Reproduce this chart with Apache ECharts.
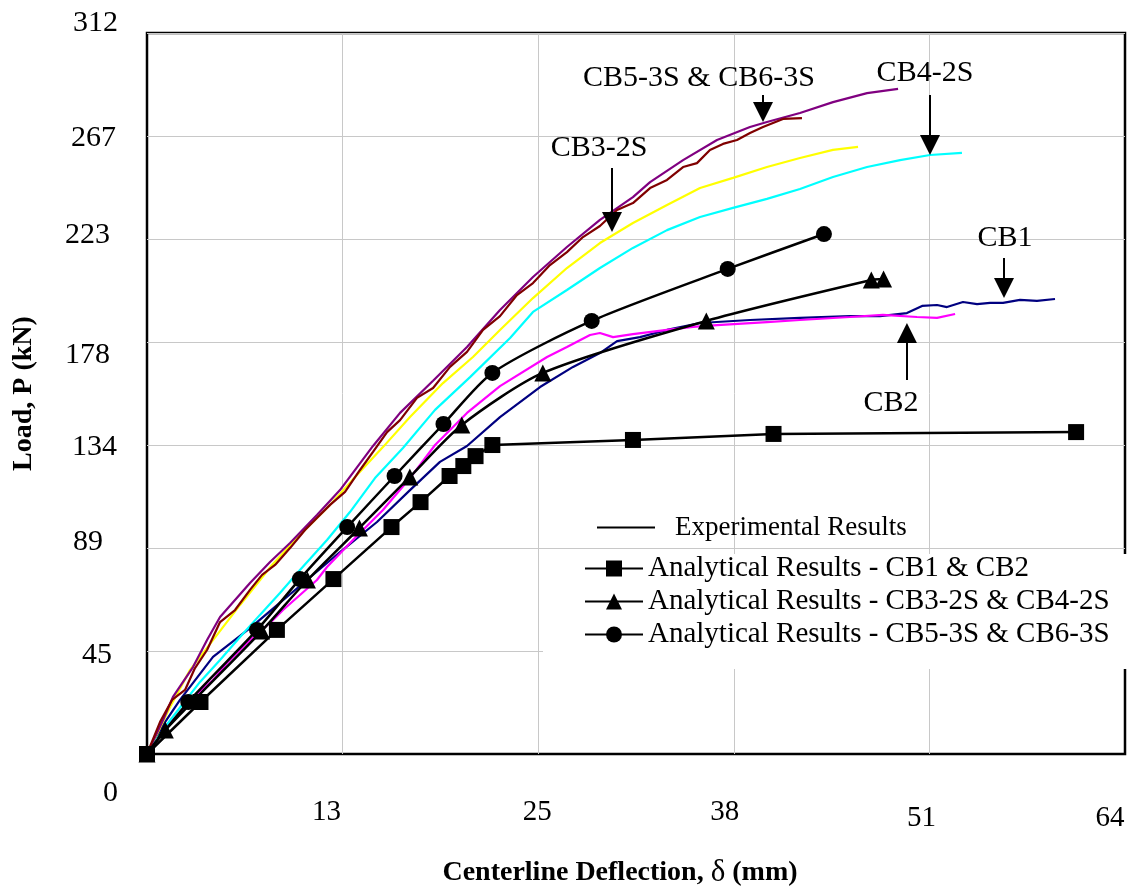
<!DOCTYPE html>
<html>
<head>
<meta charset="utf-8">
<title>Load - centerline deflection</title>
<script src="https://cdn.jsdelivr.net/npm/echarts@6/dist/echarts.min.js"></script>
<style>
  html, body { margin: 0; padding: 0; background: #fff; }
  #main { width: 1136px; height: 893px; }
</style>
</head>
<body>
<div id="main"></div>
<script>
// tick labels as printed on the figure
var xTickLabels = ['0', '13', '25', '38', '51', '64'];
var yTickLabels = ['0', '45', '89', '134', '178', '223', '267', '312'];

// experimental curves  [deflection (mm), load (kN)]
var cb1 = [[0,0],[1.18,13.8],[2.16,23.4],[4.32,42.0],[6.74,54.5],[8.90,66.6],[10.47,75.3],[12.63,87.4],
  [15.05,100.4],[17.21,114.2],[19.17,126.4],[20.94,133.3],[23.10,145.8],[25.72,158.8],[27.88,167.5],
  [29.64,173.5],[30.76,178.7],[32.26,180.4],[34.03,183.5],[36.19,186.5],[39.46,187.8],[42.73,188.7],
  [46.00,189.5],[47.97,189.5],[49.73,190.8],[50.72,193.9],[51.70,194.3],[52.35,193.4],[53.40,195.6],
  [54.32,194.7],[55.17,195.2],[56.02,195.2],[57.13,196.5],[58.24,196.1],[59.42,196.9]];
var cb2 = [[0,0],[1.18,11.3],[2.16,17.7],[2.81,23.4],[4.32,32.0],[5.24,39.4],[6.54,48.0],[8.25,58.0],
  [8.90,62.3],[11.12,75.3],[11.78,80.9],[13.48,92.6],[15.44,105.6],[17.21,119.4],[18.85,133.7],
  [20.94,147.6],[23.10,159.2],[26.18,171.8],[27.48,176.1],[28.99,181.3],[29.64,182.2],[30.50,180.4],
  [31.80,181.7],[34.03,183.5],[35.73,184.8],[37.30,185.6],[40.57,186.9],[42.73,187.8],[46.00,189.1],
  [48.16,190.0],[50.39,189.1],[51.70,188.7],[52.88,190.4]];
var cb3 = [[0,0],[0.85,11.3],[1.51,20.3],[2.81,36.3],[4.32,49.3],[6.09,64.5],[8.18,81.8],[10.01,94.8],
  [11.98,107.8],[13.74,120.7],[15.44,132.8],[17.21,145.8],[19.37,160.5],[21.33,171.8],[23.10,183.5],
  [25.26,197.3],[27.48,210.3],[29.64,221.1],[31.80,229.8],[34.03,237.6],[36.19,244.9],[38.35,249.3],
  [40.57,254.0],[42.73,257.9],[44.89,261.4],[46.53,262.7]];
var cb4 = [[0,0],[1.18,11.7],[2.29,21.2],[3.47,31.2],[4.78,40.7],[6.09,50.6],[7.39,60.2],[8.70,69.7],
  [10.01,79.6],[11.78,92.6],[13.28,104.7],[14.92,119.4],[16.75,132.4],[18.85,148.9],[21.14,163.1],
  [23.76,180.0],[25.26,191.3],[27.48,200.8],[29.64,210.3],[31.80,219.0],[34.03,226.7],[36.19,232.4],
  [38.35,236.3],[40.57,240.2],[42.73,244.5],[44.89,249.7],[47.12,254.0],[49.28,257.0],[51.24,259.2],
  [53.33,260.1]];
var cb5 = [[0,0],[1.05,14.7],[1.70,24.7],[3.01,37.6],[3.93,49.3],[4.78,59.3],[6.74,74.0],[8.05,83.1],
  [9.36,91.3],[11.12,103.4],[12.63,114.2],[14.79,133.3],[16.56,147.6],[18.72,161.5],[20.94,176.1],
  [23.10,192.1],[25.26,206.4],[27.48,219.4],[29.64,231.1],[31.80,241.0],[32.92,247.5],[35.08,257.0],
  [37.30,265.7],[39.46,271.3],[40.57,273.5],[42.73,277.4],[44.89,282.1],[47.12,286.0],[49.15,287.8]];
var cb6 = [[0,0],[0.85,13.8],[1.64,23.4],[2.49,27.7],[3.14,37.2],[3.93,45.0],[4.78,57.1],[5.76,62.3],
  [6.74,71.0],[7.53,77.5],[8.38,81.8],[9.36,89.1],[10.34,96.9],[11.12,102.1],[11.98,107.8],[12.96,113.4],
  [13.94,122.9],[14.79,130.7],[15.71,139.3],[16.56,144.5],[17.67,154.1],[18.72,158.4],[19.83,167.5],
  [20.94,174.0],[21.99,183.5],[23.10,189.5],[24.21,198.6],[25.26,203.8],[26.37,211.6],[27.48,217.2],
  [28.53,223.7],[29.64,228.5],[30.76,235.4],[31.80,238.4],[32.92,244.9],[34.03,248.4],[35.08,254.0],
  [35.99,255.7],[36.84,261.4],[37.69,264.0],[38.61,265.7],[39.46,268.7],[40.31,271.3],[41.62,274.8],
  [42.86,275.2]];

// analytical results
var anaCB12 = [[0,0],[3.5,22.5],[8.5,53.7],[12.2,75.7],[16.0,98.2],[17.9,109.0],[19.8,120.3],[20.7,124.6],
  [21.5,128.9],[22.6,133.7],[31.8,135.9],[41.0,138.5],[60.8,139.3]];
var anaCB34 = [[0,0],[1.2,10.4],[7.5,53.2],[10.5,75.3],[13.9,97.8],[17.2,119.9],[20.6,142.4],[25.9,164.9],
  [36.6,187.4],[47.4,205.1],[48.2,205.5]];
var anaCB56 = [[0,0],[2.7,22.5],[7.2,53.7],[10.0,75.7],[13.1,98.2],[16.2,120.3],[19.4,142.8],[22.6,164.9],
  [29.1,187.4],[38.0,209.9],[44.3,225.0]];

// callouts: [text, x, y] and arrows: [x, yFrom, yTo]
var notes = [['CB5-3S & CB6-3S', 36.12, 292.5], ['CB4-2S', 50.91, 294.7], ['CB3-2S', 29.58, 262.2],
  ['CB1', 56.15, 223.3], ['CB2', 48.69, 151.9]];
var arrows = [[40.31, 285.2, 277.8], [51.24, 285.2, 263.5], [30.43, 253.6, 230.2],
  [56.08, 214.6, 201.6], [49.73, 161.8, 182.2]];

var FONT = "'Liberation Serif', 'Times New Roman', serif";
var yStep = 312 / 7;

// label nudges (px) to sit like the original figure
var yLabDy = [39, 4, -6, 2, 13, -4, 2, -10];
var yLabPr = [0, 6, 15, 1, 8, 8, 2, 0];
var xLabDx = [0, -16, -1, -9, -8, -15];
var xLabDy = [0, 2, 2, 2, 8, 8];

var yRich = {}, xRich = {};
yTickLabels.forEach(function (t, i) {
  var d = yLabDy[i];
  yRich['y' + i] = {
    fontFamily: FONT, fontSize: 30, color: '#000',
    padding: [d > 0 ? 2 * d : 0, yLabPr[i], d < 0 ? -2 * d : 0, 0]
  };
});
xTickLabels.forEach(function (t, i) {
  xRich['x' + i] = {
    fontFamily: FONT, fontSize: 29, color: '#000',
    padding: [xLabDy[i], -2 * xLabDx[i], 0, 0]
  };
});

function expSeries(name, data, color) {
  return {
    name: name, type: 'line', data: data, symbol: 'none',
    lineStyle: { color: color, width: 2.2 }, z: 2
  };
}
function anaSeries(name, data, symbol, size, smooth) {
  return {
    name: name, type: 'line', data: data, symbol: symbol, symbolSize: size,
    smooth: smooth, showAllSymbol: true,
    lineStyle: { color: '#000', width: 2.5 }, itemStyle: { color: '#000' }, z: 3
  };
}

var chart = echarts.init(document.getElementById('main'));

var sq = anaSeries('Analytical Results - CB1 & CB2', anaCB12, 'rect', 16, false);
sq.markLine = {
  silent: true, animation: false,
  symbol: ['none', 'triangle'], symbolSize: 20,
  lineStyle: { color: '#000', width: 2, type: 'solid' },
  label: { show: false },
  data: arrows.map(function (a) { return [{ coord: [a[0], a[1]] }, { coord: [a[0], a[2]] }]; })
};
sq.markPoint = {
  silent: true, animation: false,
  symbol: 'circle', symbolSize: 1, itemStyle: { color: 'rgba(0,0,0,0)' },
  label: { show: true, position: 'inside', formatter: '{b}', color: '#000', fontFamily: FONT, fontSize: 30 },
  data: notes.map(function (n) { return { name: n[0], coord: [n[1], n[2]] }; })
};

chart.setOption({
  animation: false,
  backgroundColor: '#fff',
  grid: { left: 147, top: 33, width: 978, height: 721, show: true, borderColor: '#000', borderWidth: 2.5, backgroundColor: 'transparent' },
  legend: [{
    data: [{ name: 'Experimental Results', icon: 'rect' }],
    left: 597, top: 514, padding: 0, selectedMode: false,
    itemWidth: 58, itemHeight: 2,
    textStyle: { fontFamily: FONT, fontSize: 27, color: '#000', lineHeight: 26, padding: [0, 0, 0, 15] }
  }, {
    data: ['Analytical Results - CB1 & CB2', 'Analytical Results - CB3-2S & CB4-2S', 'Analytical Results - CB5-3S & CB6-3S'],
    orient: 'vertical', align: 'left', left: 543, top: 554,
    padding: [0, 27, 20, 41], itemGap: 4, selectedMode: false,
    backgroundColor: '#fff',
    itemWidth: 58, itemHeight: 20,
    textStyle: { fontFamily: FONT, fontSize: 29, color: '#000', lineHeight: 26 }
  }],
  xAxis: {
    type: 'value', min: 0, max: 64, interval: 12.8,
    name: 'Centerline Deflection, {d|δ} (mm)', nameLocation: 'middle', nameGap: 103,
    nameTextStyle: {
      fontFamily: FONT, fontSize: 28, fontWeight: 'bold', color: '#000', padding: [0, 32, 0, 0],
      rich: { d: { fontFamily: FONT, fontSize: 31, fontWeight: 'normal', color: '#000' } }
    },
    axisLine: { show: false }, axisTick: { show: false },
    axisLabel: {
      margin: 42, rich: xRich,
      formatter: function (v) {
        var i = Math.round(v / 12.8);
        return i === 0 ? '' : '{x' + i + '|' + xTickLabels[i] + '}';
      }
    },
    splitLine: { show: true, showMinLine: false, showMaxLine: false, lineStyle: { color: '#c8c8c8', width: 1 } }
  },
  yAxis: {
    type: 'value', min: 0, max: 312, interval: yStep,
    name: 'Load, P (kN)', nameLocation: 'middle', nameGap: 109, nameRotate: 90,
    nameTextStyle: { fontFamily: FONT, fontSize: 28, fontWeight: 'bold', color: '#000' },
    axisLine: { show: false }, axisTick: { show: false },
    axisLabel: {
      margin: 29, rich: yRich,
      formatter: function (v) {
        var i = Math.round(v / yStep);
        return '{y' + i + '|' + yTickLabels[i] + '}';
      }
    },
    splitLine: { show: true, showMinLine: false, showMaxLine: false, lineStyle: { color: '#c8c8c8', width: 1 } }
  },
  series: [
    { name: 'Experimental Results', type: 'line', data: [], symbol: 'none', lineStyle: { color: '#000', width: 2 }, itemStyle: { color: '#000' } },
    expSeries('CB1', cb1, '#000080'),
    expSeries('CB2', cb2, '#ff00ff'),
    expSeries('CB3-2S', cb3, '#ffff00'),
    expSeries('CB4-2S', cb4, '#00ffff'),
    expSeries('CB5-3S', cb5, '#800080'),
    expSeries('CB6-3S', cb6, '#800000'),
    sq,
    anaSeries('Analytical Results - CB3-2S & CB4-2S', anaCB34, 'triangle', 17, 0.25),
    anaSeries('Analytical Results - CB5-3S & CB6-3S', anaCB56, 'circle', 16, 0.25)
  ]
});
</script>
</body>
</html>
